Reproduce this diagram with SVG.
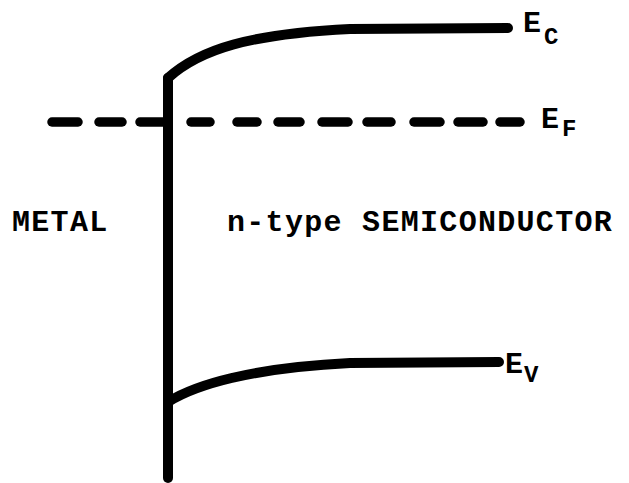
<svg xmlns="http://www.w3.org/2000/svg" width="629" height="483" viewBox="0 0 629 483">
  <style>
    .band { fill: none; stroke: #000; stroke-width: 10; stroke-linecap: round; stroke-linejoin: round; }
    .dash { stroke: #000; stroke-width: 9.5; stroke-linecap: round; }
    .lbl { font-family: "Liberation Mono", "Courier New", monospace; font-weight: bold; fill: #000; }
    .big { font-size: 30px; letter-spacing: 1.3px; }
    .sub { font-size: 24px; }
  </style>
  <rect width="629" height="483" fill="#fff"/>

  <!-- metal / semiconductor interface and band edges -->
  <g id="interface">
    <path class="band" d="M168,478 L168,78"/>
  </g>
  <g id="conduction-band">
    <path class="band" d="M168,78 C200,49 250,34 350,29 L508,28"/>
  </g>
  <g id="valence-band">
    <path class="band" d="M168,402 C195,385 250,368 350,363 L499,362"/>
  </g>
  <g id="fermi-level">
    <line class="dash" x1="52" y1="122" x2="78" y2="122"/>
    <line class="dash" x1="99" y1="122" x2="122" y2="122"/>
    <line class="dash" x1="140" y1="122" x2="164" y2="122"/>
    <line class="dash" x1="191" y1="122" x2="210" y2="122"/>
    <line class="dash" x1="237" y1="122" x2="257" y2="122"/>
    <line class="dash" x1="278" y1="122" x2="300" y2="122"/>
    <line class="dash" x1="322" y1="122" x2="348" y2="122"/>
    <line class="dash" x1="367" y1="122" x2="391" y2="122"/>
    <line class="dash" x1="414" y1="122" x2="440" y2="122"/>
    <line class="dash" x1="458" y1="122" x2="483" y2="122"/>
    <line class="dash" x1="500" y1="122" x2="520" y2="122"/>
  </g>

  <!-- level labels -->
  <g id="label-ec">
    <text class="lbl big" x="523" y="32">E</text>
    <text class="lbl sub" x="544" y="44">C</text>
  </g>
  <g id="label-ef">
    <text class="lbl big" x="541" y="128">E</text>
    <text class="lbl sub" x="562" y="136">F</text>
  </g>
  <g id="label-ev">
    <text class="lbl big" x="505" y="373">E</text>
    <text class="lbl sub" x="524" y="382">V</text>
  </g>

  <!-- region labels -->
  <g id="metal">
    <text class="lbl big" x="12" y="231">METAL</text>
  </g>
  <g id="semiconductor">
    <text class="lbl big" x="227" y="231">n-type SEMICONDUCTOR</text>
  </g>
</svg>
